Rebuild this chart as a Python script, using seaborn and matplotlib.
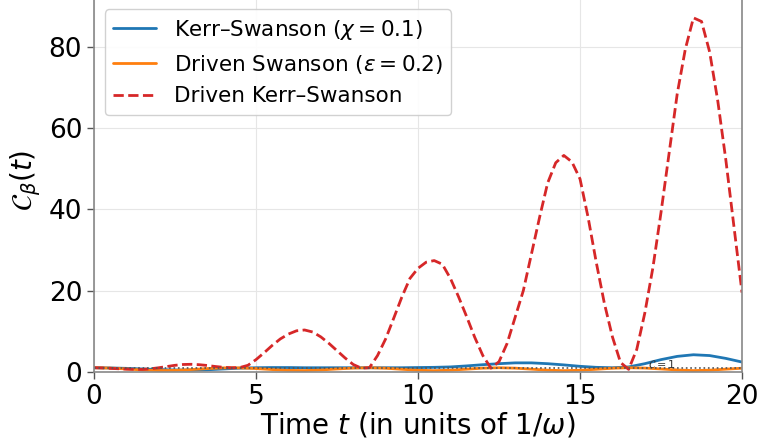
import numpy as np
import pandas as pd
import matplotlib
matplotlib.use("Agg")
import matplotlib.pyplot as plt
import seaborn as sns

# === Data ===
t_red = np.arange(0, 20.01, 0.25)
c_driven_kerr = [1.0, 0.95, 0.85, 0.75, 0.65, 0.6, 0.6, 0.75,
                 1.0, 1.3, 1.6, 1.8, 1.85, 1.75, 1.55, 1.3,
                 1.1, 1.0, 1.05, 1.6, 3.0, 4.7, 6.5, 8.1,
                 9.3, 10.1, 10.3, 9.8, 8.6, 7.0, 5.2, 3.4,
                 1.8, 0.9, 1.0, 4.0, 8.1, 13.2, 18.4, 23.0,
                 25.5, 27.0, 27.4, 26.5, 23.0, 18.5, 13.6, 8.5,
                 4.0, 0.9, 2.5, 7.0, 13.5, 20.0, 29.0, 38.0,
                 46.5, 51.5, 53.3, 51.7, 47.5, 38.0, 27.0, 16.9,
                 8.6, 2.3, 0.6, 5.5, 14.5, 25.7, 39.3, 53.9,
                 68.5, 79.5, 87.2, 86.3, 78.8, 66.8, 52.2, 35.8,
                 19.5]

t_half = np.arange(0, 20.01, 0.5)
c_kerr = [1.0, 0.95, 0.85, 0.7, 0.55, 0.45, 0.4, 0.5, 0.7, 0.9,
          1.0, 1.05, 1.05, 1.0, 1.0, 1.0, 1.0, 1.0, 1.0, 1.0,
          1.05, 1.1, 1.2, 1.45, 1.75, 2.0, 2.2, 2.2, 2.0, 1.7,
          1.35, 1.1, 1.0, 1.2, 2.0, 3.0, 3.8, 4.2, 4.0, 3.3,
          2.4]
c_driven = [1.0, 0.92, 0.7, 0.45, 0.3, 0.35, 0.55, 0.8, 0.97, 0.97,
            0.8, 0.55, 0.35, 0.3, 0.45, 0.7, 0.92, 1.0, 0.88, 0.62,
            0.38, 0.28, 0.4, 0.65, 0.9, 1.0, 0.9, 0.65, 0.4, 0.28,
            0.38, 0.62, 0.88, 1.0, 0.92, 0.7, 0.45, 0.3, 0.4, 0.65,
            0.88]

labels = ["Kerr–Swanson ($\\chi = 0.1$)",
          "Driven Swanson ($\\varepsilon = 0.2$)",
          "Driven Kerr–Swanson"]

# === Plot ===
sns.set_theme(style="whitegrid")
plt.rcParams['font.family'] = ['DejaVu Sans']
plt.rcParams['mathtext.fontset'] = 'dejavusans'
plt.rcParams['text.color'] = 'black'
plt.rcParams['axes.labelcolor'] = 'black'
plt.rcParams['xtick.color'] = 'black'
plt.rcParams['ytick.color'] = 'black'

fig = plt.figure(figsize=(7.77, 4.40), dpi=100)
ax = fig.add_axes([0.121, 0.155, 0.834, 0.87])

sns.lineplot(x=t_half, y=c_kerr, ax=ax, color="#1f77b4", lw=2, label=labels[0])
sns.lineplot(x=t_half, y=c_driven, ax=ax, color="#ff7f0e", lw=2, label=labels[1])
sns.lineplot(x=t_red, y=c_driven_kerr, ax=ax, color="#d62728", lw=2,
             linestyle="--", label=labels[2])

ax.axhline(1, color="#555555", linestyle=":", lw=1.2)
ax.text(17.1, 0.9, "$\\mathcal{C}=1$", fontsize=8, color="#333333")

ax.set_xlim(0, 20)
ax.set_ylim(0, 94.3)
ax.set_xticks([0, 5, 10, 15, 20])
ax.set_yticks([0, 20, 40, 60, 80])
ax.tick_params(labelsize=19, length=5, width=1, color="#555555", left=True, bottom=True)
ax.grid(color="#e6e6e6", lw=0.8)
for s in ax.spines.values():
    s.set_color("#888888")
    s.set_linewidth(1.2)

ax.set_xlabel("Time $t$ (in units of $1/\\omega$)", fontsize=20, labelpad=1)
ax.set_ylabel("$\\mathcal{C}_\\beta(t)$", fontsize=20, labelpad=4)

ax.legend(loc="upper left", fontsize=15.5, frameon=True, framealpha=0.9,
          edgecolor="#cccccc", bbox_to_anchor=(0.0, 0.975), borderaxespad=0.5)

fig.savefig("out.png", dpi=100)
plt.close()
